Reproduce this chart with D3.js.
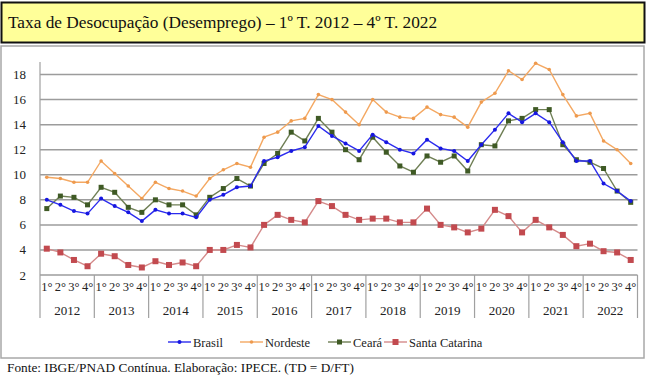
<!DOCTYPE html>
<html>
<head>
<meta charset="utf-8">
<script src="https://cdn.jsdelivr.net/npm/d3@7"></script>
<style>
    body { margin: 0; background: #fff; }
    svg { display: block; }
</style>
</head>
<body>
<div id="chart"></div>
<script>
// Quarterly unemployment rate (%), 1º T. 2012 – 4º T. 2022
const years = ["2012", "2013", "2014", "2015", "2016", "2017", "2018", "2019", "2020", "2021", "2022"];
const quarters = ["1°", "2°", "3°", "4°"];

const brasil = [
    8.0, 7.6, 7.1, 6.9,  8.1, 7.5, 7.0, 6.3,  7.2, 6.9, 6.9, 6.6,
    8.0, 8.4, 9.0, 9.1,  11.1, 11.4, 11.9, 12.2,  13.9, 13.1, 12.5, 11.9,
    13.2, 12.6, 12.0, 11.7,  12.8, 12.1, 11.9, 11.1,  12.4, 13.6, 14.9, 14.2,
    14.9, 14.2, 12.6, 11.1,  11.1, 9.3, 8.7, 7.9
];
const nordeste = [
    9.8, 9.7, 9.4, 9.4,  11.1, 10.1, 9.1, 8.1,  9.4, 8.9, 8.7, 8.3,
    9.7, 10.4, 10.9, 10.6,  13.0, 13.4, 14.3, 14.5,  16.4, 16.0, 15.0, 14.0,
    16.0, 15.0, 14.6, 14.5,  15.4, 14.8, 14.6, 13.8,  15.8, 16.5, 18.3, 17.6,
    18.9, 18.4, 16.4, 14.7,  14.9, 12.7, 12.0, 10.9
];
const ceara = [
    7.3, 8.3, 8.2, 7.6,  9.0, 8.6, 7.4, 7.0,  8.0, 7.6, 7.6, 6.8,
    8.2, 8.9, 9.7, 9.1,  10.9, 11.7, 13.4, 12.7,  14.5, 13.4, 12.0, 11.2,
    13.0, 11.8, 10.7, 10.2,  11.5, 11.0, 11.5, 10.3,  12.4, 12.3, 14.3, 14.5,
    15.2, 15.2, 12.4, 11.2,  11.0, 10.5, 8.7, 7.8
];
const santaCatarina = [
    4.1, 3.8, 3.2, 2.7,  3.7, 3.5, 2.8, 2.6,  3.1, 2.8, 3.0, 2.7,
    4.0, 4.0, 4.4, 4.2,  6.0, 6.8, 6.4, 6.2,  7.9, 7.5, 6.8, 6.4,
    6.5, 6.5, 6.2, 6.2,  7.3, 6.0, 5.8, 5.4,  5.7, 7.2, 6.7, 5.4,
    6.4, 5.8, 5.2, 4.3,  4.5, 3.9, 3.8, 3.2
];
const yTicks = [2, 4, 6, 8, 10, 12, 14, 16, 18];

const series = [
    { name: "Brasil", values: brasil, line: "#2b2bee", marker: "#1616e0", shape: "circle", size: 2 },
    { name: "Nordeste", values: nordeste, line: "#f4a862", marker: "#ee9a4e", shape: "circle", size: 1.8 },
    { name: "Ceará", values: ceara, line: "#6f7f55", marker: "#3f5a25", shape: "square", size: 5 },
    { name: "Santa Catarina", values: santaCatarina, line: "#d48a8a", marker: "#c24a4f", shape: "square", size: 6 }
];

const serif = "'Liberation Serif', 'Times New Roman', Tinos, 'DejaVu Serif', serif";
const width = 647, height = 375;
const svg = d3.select("#chart").append("svg")
    .attr("width", width)
    .attr("height", height)
    .attr("font-family", serif)
    .style("font-family", serif);

// title box
svg.append("rect")
    .attr("x", 1.5).attr("y", 2.5)
    .attr("width", 643).attr("height", 40)
    .attr("fill", "#ffff99")
    .attr("stroke", "#111")
    .attr("stroke-width", 2);
svg.append("text")
    .attr("x", 8).attr("y", 28)
    .attr("font-size", 17.3)
    .attr("fill", "#111")
    .text("Taxa de Desocupação (Desemprego) – 1º T. 2012 – 4º T. 2022");

// chart panel
svg.append("rect")
    .attr("x", 1).attr("y", 46)
    .attr("width", 643).attr("height", 312)
    .attr("fill", "#fff")
    .attr("stroke", "#a8a8a8")
    .attr("stroke-width", 1.5);

const plot = { left: 40, right: 637.5, top: 62, bottom: 275 };

const n = years.length * quarters.length;
const x = d3.scaleBand()
    .domain(d3.range(n))
    .range([plot.left, plot.right])
    .padding(0);
const y = d3.scaleLinear()
    .domain([2, 19])
    .range([plot.bottom, plot.top]);

// gridlines
svg.append("g")
    .selectAll("line")
    .data(yTicks)
    .join("line")
    .attr("x1", plot.left).attr("x2", plot.right)
    .attr("y1", d => y(d)).attr("y2", d => y(d))
    .attr("stroke", "#9c9c9c")
    .attr("stroke-width", 1.5);

// y tick labels
svg.append("g")
    .selectAll("text")
    .data(yTicks)
    .join("text")
    .attr("x", 26).attr("y", d => y(d) + 4.5)
    .attr("text-anchor", "end")
    .attr("font-size", 13)
    .attr("fill", "#222")
    .text(d => d);

// vertical axis line
svg.append("line")
    .attr("x1", plot.left).attr("x2", plot.left)
    .attr("y1", plot.top).attr("y2", 318)
    .attr("stroke", "#a0a0a0")
    .attr("stroke-width", 1.2);

// year separators
const yearW = x.bandwidth() * quarters.length;
svg.append("g")
    .selectAll("line")
    .data(d3.range(1, years.length + 1))
    .join("line")
    .attr("x1", i => x(0) + i * yearW).attr("x2", i => x(0) + i * yearW)
    .attr("y1", plot.bottom).attr("y2", 318)
    .attr("stroke", "#a0a0a0")
    .attr("stroke-width", 1.2);

// quarter labels
svg.append("g")
    .selectAll("text")
    .data(d3.range(n))
    .join("text")
    .attr("x", i => x(i) + x.bandwidth() / 2)
    .attr("y", 291)
    .attr("text-anchor", "middle")
    .attr("font-size", 12.5)
    .attr("fill", "#222")
    .text(i => quarters[i % 4]);

// year labels
svg.append("g")
    .selectAll("text")
    .data(years)
    .join("text")
    .attr("x", (d, i) => x(i * 4) + yearW / 2)
    .attr("y", 315)
    .attr("text-anchor", "middle")
    .attr("font-size", 13)
    .attr("fill", "#222")
    .text(d => d);

// lines + markers
const cx = i => x(i) + x.bandwidth() / 2;
const line = d3.line()
    .x((d, i) => cx(i))
    .y(d => y(d));

function drawMarker(g, s, px, py) {
    if (s.shape === "circle") {
        g.append("circle")
            .attr("cx", px).attr("cy", py)
            .attr("r", s.size)
            .attr("fill", s.marker);
    } else {
        g.append("rect")
            .attr("x", px - s.size / 2).attr("y", py - s.size / 2)
            .attr("width", s.size).attr("height", s.size)
            .attr("fill", s.marker);
    }
}

const drawOrder = [series[3], series[1], series[2], series[0]];
drawOrder.forEach(s => {
    const g = svg.append("g");
    g.append("path")
        .datum(s.values)
        .attr("d", line)
        .attr("fill", "none")
        .attr("stroke", s.line)
        .attr("stroke-width", 1.4);
    s.values.forEach((v, i) => drawMarker(g, s, cx(i), y(v)));
});

// legend
const legendItems = [
    { s: series[0], x: 168 },
    { s: series[1], x: 240 },
    { s: series[2], x: 328 },
    { s: series[3], x: 384 }
];
const ly = 342;
legendItems.forEach(item => {
    const g = svg.append("g");
    g.append("line")
        .attr("x1", item.x).attr("x2", item.x + 23)
        .attr("y1", ly).attr("y2", ly)
        .attr("stroke", item.s.line)
        .attr("stroke-width", 1.4);
    drawMarker(g, item.s, item.x + 11.5, ly);
    g.append("text")
        .attr("x", item.x + 25).attr("y", ly + 4.5)
        .attr("font-size", 12.5)
        .attr("fill", "#222")
        .text(item.s.name);
});

// source
svg.append("text")
    .attr("x", 7).attr("y", 372)
    .attr("font-size", 13.3)
    .attr("fill", "#111")
    .text("Fonte: IBGE/PNAD Contínua. Elaboração: IPECE. (TD = D/FT)");
</script>
</body>
</html>
